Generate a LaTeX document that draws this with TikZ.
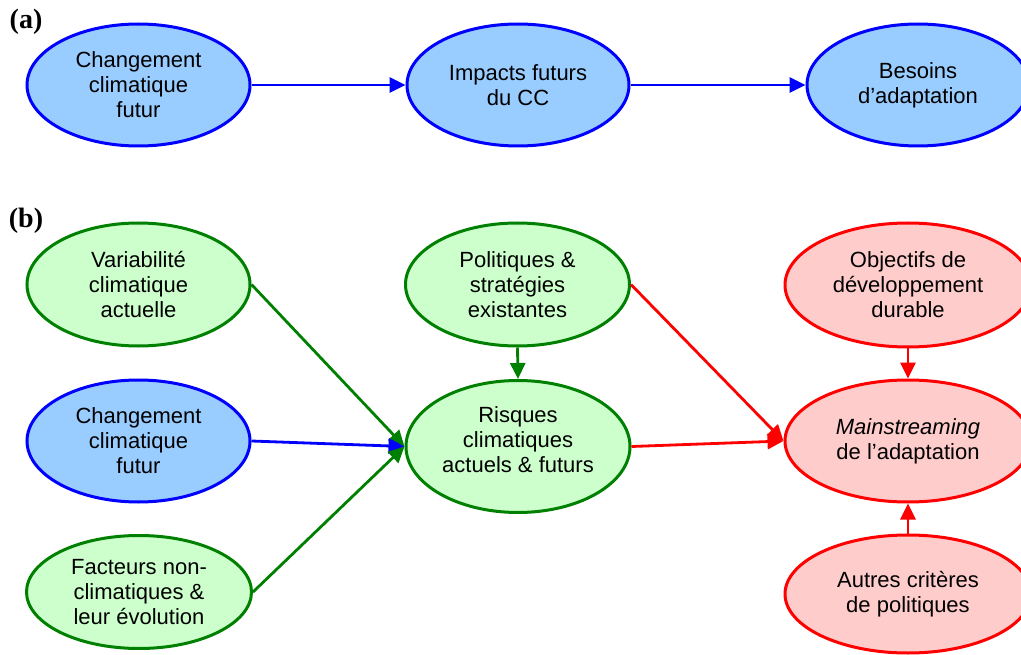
\documentclass[tikz,border=0pt]{standalone}
\usepackage{fontspec}
\setmainfont{Liberation Sans}
\newfontfamily\lblfont{Liberation Serif}
\usetikzlibrary{shapes.geometric,arrows.meta}
\definecolor{bfill}{HTML}{99CCFF}
\definecolor{bline}{HTML}{0000FF}
\definecolor{gfill}{HTML}{CCFFCC}
\definecolor{gline}{HTML}{008000}
\definecolor{rfill}{HTML}{FFCCCC}
\definecolor{rline}{HTML}{FF0000}
\tikzset{
  ell/.style={ellipse, inner sep=0pt, line width=3pt, align=center,
    font=\fontsize{22}{25}\selectfont},
  bnode/.style={ell, draw=bline, fill=bfill},
  gnode/.style={ell, draw=gline, fill=gfill},
  rnode/.style={ell, draw=rline, fill=rline!20},
  conn/.style={line width=2.8pt, -{Triangle[length=16pt,width=15pt]}},
  bconn/.style={conn, draw=bline, fill=bline},
  gconn/.style={conn, draw=gline, fill=gline},
  rconn/.style={conn, draw=rline, fill=rline},
  panel/.style={font=\lblfont\bfseries\fontsize{28}{30}\selectfont, inner sep=0pt}
}
\begin{document}
\begin{tikzpicture}[x=1pt,y=-1pt]
\useasboundingbox (0,0) rectangle (1021,655);
\clip (0,0) rectangle (1021,655);
% panel labels
\node[panel] (la) at (26,22) {(a)};
\node[panel] (lb) at (26,221) {(b)};
% row (a)
\node[bnode, minimum width=223pt, minimum height=122pt] (a1) at (138.5,85) {Changement\\climatique\\futur};
\node[bnode, minimum width=222pt, minimum height=122pt] (a2) at (518,85) {Impacts futurs\\du CC};
\node[bnode, minimum width=222pt, minimum height=122pt] (a3) at (918,85) {Besoins\\d’adaptation};
\draw[bconn] (a1.east) -- (a2.west);
\draw[bconn] (a2.east) -- (a3.west);
% row (b) left column
\node[gnode, minimum width=223pt, minimum height=123pt] (var) at (138.5,284.5) {Variabilité\\climatique\\actuelle};
\node[bnode, minimum width=223pt, minimum height=122pt] (chg) at (138.5,441) {Changement\\climatique\\futur};
\node[gnode, minimum width=225pt, minimum height=113pt] (fac) at (139,592) {Facteurs non-\\climatiques \&\\leur évolution};
% middle column
\node[gnode, minimum width=224pt, minimum height=123pt] (pol) at (517.5,284.5) {Politiques \&\\stratégies\\existantes};
\node[gnode, minimum width=224pt, minimum height=132pt,
  label={[yshift=6.5pt,align=center,font=\fontsize{22}{25}\selectfont]center:Risques\\climatiques\\actuels \& futurs}] (ris) at (518,446.5) {};
% right column
\node[rnode, minimum width=246pt, minimum height=124pt] (obj) at (908,285) {Objectifs de\\développement\\durable};
\node[rnode, minimum width=246pt, minimum height=122pt] (mai) at (908,441) {\textit{Mainstreaming}\\de l’adaptation};
\node[rnode, minimum width=246pt, minimum height=118pt] (aut) at (908,594) {Autres critères\\de politiques};
% connectors
\draw[gconn] (var.east) -- (ris.west);
\draw[bconn] (chg.east) -- (ris.west);
\draw[gconn] (fac.east) -- (ris.west);
\draw[gconn] (pol.south) -- (ris.north);
\draw[rconn] (pol.east) -- (mai.west);
\draw[rconn] (ris.east) -- (mai.west);
\draw[rconn] (obj.south) -- (mai.north);
\draw[rconn] (aut.north) -- (mai.south);
\end{tikzpicture}
\end{document}
